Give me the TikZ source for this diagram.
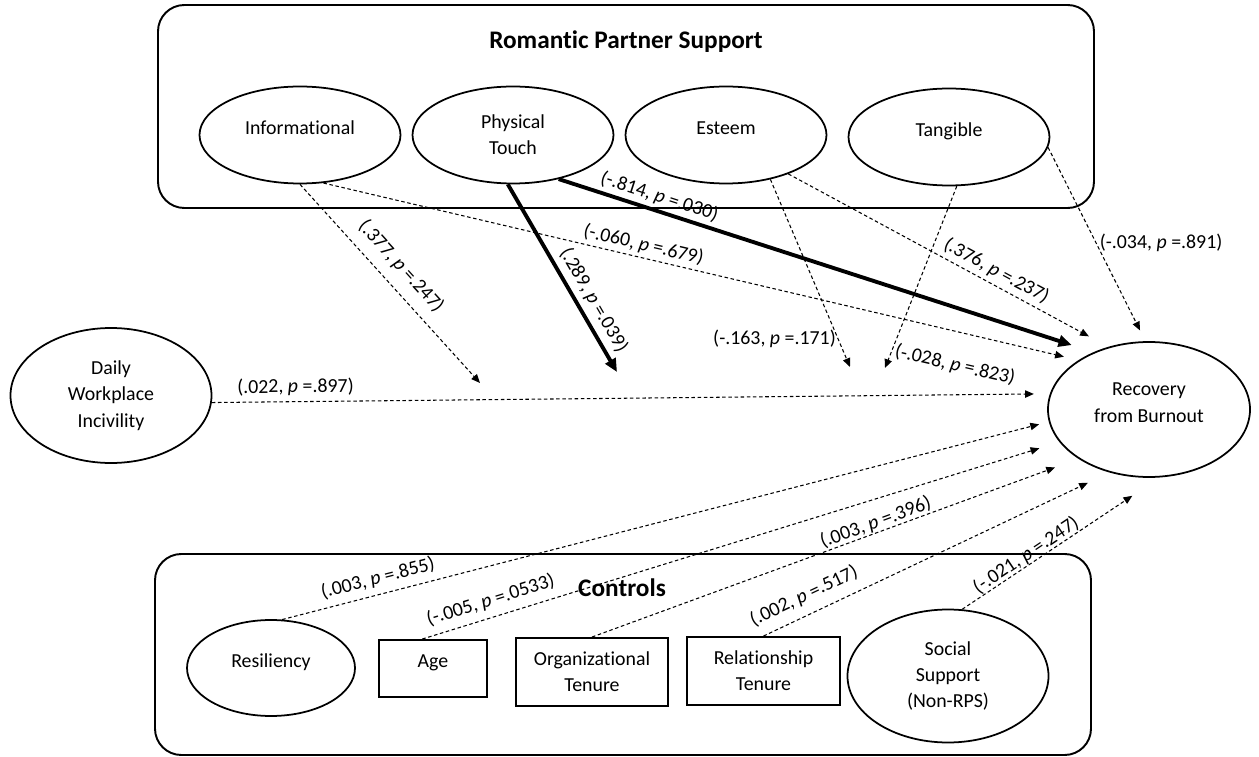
\documentclass[tikz,border=0pt]{standalone}
\usepackage{fontspec}
\setmainfont{Carlito}[Ligatures=NoCommon]
\usetikzlibrary{arrows.meta,shapes.geometric}
\newdimen\pxu \pxu=0.02cm

\begin{document}
\begin{tikzpicture}[x=0.02cm,y=-0.02cm,
    font=\fontsize{11.3}{15}\selectfont,
    group/.style={draw,line width=1.1pt,rounded corners=15pt,inner sep=0pt},
    heading/.style={font=\fontsize{14.4}{17}\selectfont\bfseries},
    latent/.style={draw,ellipse,line width=1pt,inner sep=0pt,align=center,
        minimum width=201\pxu,minimum height=97\pxu},
    observed/.style={draw,rectangle,line width=1.1pt,inner sep=0pt,align=center,
        minimum height=68\pxu},
    oneline/.style={text depth=14\pxu},
    nsline/.style={line width=0.6pt,dash pattern=on 2pt off 1.5pt,
        -{Triangle[length=5pt,width=4.2pt]}},
    sigline/.style={line width=2.2pt,-{Triangle[length=7.5pt,width=6.5pt]}},
    coef/.style={sloped,above,inner sep=2pt}]

  \useasboundingbox (0,0) rectangle (1259,757);

  % Groups
  \node[group,minimum width=936\pxu,minimum height=203\pxu] (rps) at (626,106.5) {};
  \node[heading] (rpsTitle) at (626,42) {Romantic Partner Support};
  \node[group,minimum width=936\pxu,minimum height=201\pxu] (ctrl) at (623,654.5) {};
  \node[heading] (ctrlTitle) at (622,588) {Controls};

  % Define vertices
  \node[latent,oneline] (info) at (300,135) {Informational};
  \node[latent] (touch) at (513,135) {Physical\\Touch};
  \node[latent,oneline] (esteem) at (726,135) {Esteem};
  \node[latent,oneline] (tangible) at (949,137) {Tangible};
  \node[latent,minimum height=135\pxu] (daily) at (111,395.5) {Daily\\Workplace\\Incivility};
  \node[latent,minimum width=202\pxu,minimum height=135\pxu,text depth=14\pxu] (rec) at (1149,409.5) {Recovery\\from Burnout};
  \node[latent,oneline,minimum width=168\pxu,minimum height=96\pxu] (resil) at (271,668) {Resiliency};
  \node[observed,oneline,minimum width=108\pxu,minimum height=57\pxu] (age) at (433,668.5) {Age};
  \node[observed,minimum width=152\pxu] (org) at (592,672) {Organizational\\Tenure};
  \node[observed,minimum width=153\pxu] (rel) at (763.5,671) {Relationship\\Tenure};
  \node[latent,minimum height=133\pxu] (social) at (948,676) {Social\\Support\\(Non-RPS)};

  % Moderation targets
  \coordinate (modInfo) at (480,383);
  \coordinate (modTouch) at (617,372);
  \coordinate (modEsteem) at (850,367);
  \coordinate (modTangible) at (885,368);

  % Draw edges
  \path
    (info.-90) edge[nsline] node[coef,pos=.48,inner sep=6pt] {(.377, \textit{p} =.247)} (modInfo)
    (info.-64) edge[nsline,shorten >=15\pxu] node[coef,pos=.42] {(-.060, \textit{p} =.679)} (rec.145)
    (touch.-96) edge[sigline] node[coef,pos=.66,inner sep=3pt] {(.289, \textit{p} =.039)} (modTouch)
    (touch.-44) edge[sigline,shorten >=23\pxu] node[coef,pos=.18] {(-.814, \textit{p} =.030)} (rec.134)
    (esteem.-45) edge[nsline] node[pos=.85,left,inner sep=1pt] {(-.163, \textit{p} =.171)} (modEsteem)
    (esteem.-32) edge[nsline,shorten >=22\pxu] node[coef,pos=.63,inner sep=2.5pt] {(.376, \textit{p} =.237)} (rec.123)
    (tangible.-81) edge[nsline] (modTangible)
    (tangible.-6) edge[nsline,shorten >=12\pxu] node[pos=.49,right,inner sep=2pt] {(-.034, \textit{p} =.891)} (rec.93)
    (daily.-4) edge[nsline,shorten >=16\pxu] node[coef,pos=.1,inner sep=3pt] {(.022, \textit{p} =.897)} (rec.171)
    (resil.77) edge[nsline,shorten >=10\pxu] node[coef,pos=.13,inner sep=3.7pt] {(.003, \textit{p} =.855)} (rec.187)
    (age.110) edge[nsline,shorten >=21\pxu] node[coef,pos=.115,inner sep=4.2pt] {(-.005, \textit{p} =.0533)} (rec.200)
    (org.north) edge[nsline,shorten >=25\pxu] node[coef,pos=.59,inner sep=.3pt] {(.003, \textit{p} =.396)} (rec.215)
    (rel.north) edge[nsline,shorten >=24\pxu] node[coef,pos=.14,inner sep=5.4pt] {(.002, \textit{p} =.517)} (rec.238)
    (social.78) edge[nsline,shorten >=33\pxu] node[coef,pos=.35,inner sep=0pt] {(-.021, \textit{p} =.247)} (rec.279);
  \node[rotate=-13] (tanLabel) at (955,365) {(-.028, \textit{p} =.823)};

\end{tikzpicture}
\end{document}
